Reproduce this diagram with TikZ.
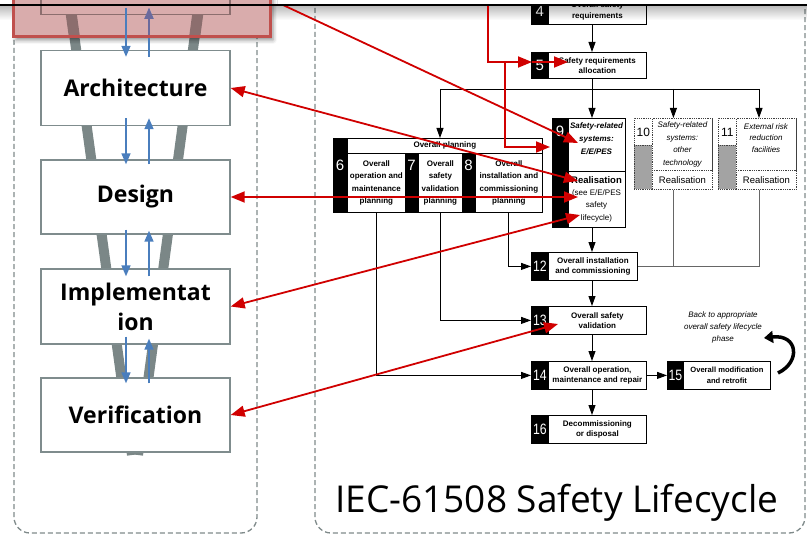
\documentclass[tikz,border=0pt]{standalone}
\usepackage{fontspec}
\usepackage{graphicx}
\setmainfont{Liberation Sans}
\newfontfamily\stagefont{Open Sans}
\usetikzlibrary{arrows.meta,calc,shadows.blur}

\definecolor{panelgray}{HTML}{7F8A8A}
\definecolor{funnelgray}{HTML}{7B8787}
\definecolor{stageedge}{HTML}{7F8C8D}
\definecolor{flowblue}{HTML}{4A7EBD}
\definecolor{hlred}{HTML}{C0504D}
\definecolor{hlfill}{HTML}{D9ACAC}
\definecolor{hlfunnel}{HTML}{8C6E6E}
\definecolor{hlblue}{HTML}{6B6A9C}
\definecolor{linkred}{HTML}{D00000}
\definecolor{cellgray}{HTML}{A3A3A3}

\newcommand\narrowdigits[1]{\scalebox{0.82}[1]{#1}}

\begin{document}
\begin{tikzpicture}[x=1pt,y=-1pt,
  stage/.style={draw=stageedge, line width=1.4pt, fill=white, minimum width=189pt,
    minimum height=75pt, inner sep=0pt, align=center,
    font=\stagefont\bfseries\fontsize{23}{30}\selectfont},
  flow/.style={draw=flowblue, line width=1.5pt, -{Triangle[length=11pt,width=9pt]}},
  numcell/.style={draw=black, fill=black, line width=0.8pt, inner sep=0pt,
    anchor=north west, text=white, font=\fontsize{15}{15}\selectfont},
  numlabel/.style={text=white, inner sep=0pt, font=\fontsize{15}{15}\selectfont},
  lcbox/.style={draw=black, fill=white, line width=0.8pt, inner sep=0pt,
    anchor=north west, align=center, font=\bfseries\fontsize{8}{10.5}\selectfont},
  plancol/.style={lcbox, font=\bfseries\fontsize{8}{12.3}\selectfont},
  dotbox/.style={draw=black!75, densely dotted, fill=white, line width=0.8pt,
    inner sep=0pt, anchor=north west, align=center, font=\fontsize{8}{12.5}\selectfont},
  lctext/.style={inner sep=0pt, align=center},
  lcline/.style={draw=black, line width=0.9pt},
  lcarrow/.style={lcline, -{Triangle[length=10pt,width=7pt]}},
  otherline/.style={draw=black!60, line width=0.9pt},
  link/.style={draw=linkred, line width=1.8pt, -{Triangle[length=14pt,width=11pt]}},
  link2/.style={draw=linkred, line width=1.8pt,
    {Triangle[length=14pt,width=11pt]}-{Triangle[length=14pt,width=11pt]}},
  panel/.style={draw=panelgray, line width=1.3pt, dash pattern=on 5pt off 3pt,
    rounded corners=16pt},
]
\useasboundingbox (0,0) rectangle (807,535);

% ---------- dashed panels ----------
\draw[panel] (14,-40) rectangle (257,533);
\draw[panel] (315,-40) rectangle (805,533);

% ---------- development stages (left) ----------
\draw[funnelgray, line width=10pt] (70,5) -- (132,455);
\draw[funnelgray, line width=10pt] (199,5) -- (138,455);

\node[stage] (arch) at (135.5,88) {Architecture};
\node[stage, minimum height=74pt] (design) at (135.5,197) {Design};
\node[stage] (impl) at (135.5,306.5) {Implementat\\ion};
\node[stage, minimum height=74pt] (verif) at (135.5,415) {Verification};

\coordinate (dn) at (126,0);
\coordinate (up) at (149,0);
\draw[flow] ($(arch.south -| dn)+(0,-8)$) -- ($(design.north -| dn)+(0,5)$);
\draw[flow] ($(design.north -| up)+(0,5)$) -- ($(arch.south -| up)+(0,-8)$);
\draw[flow] ($(design.south -| dn)+(0,-5)$) -- ($(impl.north -| dn)+(0,8)$);
\draw[flow] ($(impl.north -| up)+(0,8)$) -- ($(design.south -| up)+(0,-4)$);
\draw[flow] ($(impl.south -| dn)+(0,-8)$) -- ($(verif.north -| dn)+(0,6)$);
\draw[flow] ($(verif.north -| up)+(0,6)$) -- ($(impl.south -| up)+(0,-6)$);

% ---------- IEC 61508 overall safety lifecycle (right) ----------
\node[numcell, minimum width=17pt, minimum height=27pt] (n4) at (531,-3) {4};
\node[lcbox, minimum width=98pt, minimum height=27pt] (b4) at (548,-3) {Overall safety\\requirements};

\node[numcell, minimum width=17pt, minimum height=26pt] (n5) at (531,52) {5};
\node[lcbox, minimum width=98pt, minimum height=26pt] (b5) at (548,52) {Safety requirements\\allocation};

% overall planning
\node[numcell, minimum width=14pt, minimum height=15pt] (np) at (333,138) {};
\node[lcbox, minimum width=195pt, minimum height=15pt] (plan) at (347,138) {Overall planning};
\node[numcell, minimum width=14pt, minimum height=59pt] (n6) at (333,153) {};
\node[numlabel] (l6) at (340,165) {6};
\node[plancol, minimum width=58pt, minimum height=59pt] (b6) at (347,153) {Overall\\operation and\\maintenance\\planning};
\node[numcell, minimum width=13pt, minimum height=59pt] (n7) at (405,153) {};
\node[numlabel] (l7) at (411.5,165) {7};
\node[plancol, minimum width=44pt, minimum height=59pt] (b7) at (418,153) {Overall\\safety\\validation\\planning};
\node[numcell, minimum width=13pt, minimum height=59pt] (n8) at (462,153) {};
\node[numlabel] (l8) at (468.5,165) {8};
\node[plancol, minimum width=67pt, minimum height=59pt] (b8) at (475,153) {Overall\\installation and\\commissioning\\planning};

% phase 9
\node[numcell, minimum width=16pt, minimum height=109pt] (n9) at (552,118) {};
\node[numlabel] (l9) at (560,131) {9};
\node[lcbox, minimum width=57pt, minimum height=53pt] (b9a) at (568,118) {};
\node[lctext, font=\bfseries\itshape\fontsize{8}{13}\selectfont] (t9a) at (596.5,138.5) {Safety-related\\systems:\\E/E/PES};
\node[lcbox, minimum width=57pt, minimum height=56pt] (b9b) at (568,171) {};
\node[lctext, font=\fontsize{8}{12.3}\selectfont] (t9b) at (596.5,199) {{\bfseries\fontsize{9.5}{12.3}\selectfont Realisation}\\(see E/E/PES\\safety\\lifecycle)};

% phase 10
\node[dotbox, minimum width=78pt, minimum height=71pt] (b10) at (634,118) {};
\node[dotbox, minimum width=18pt, minimum height=27pt, font=\fontsize{12}{12}\selectfont] (n10) at (634,118) {10};
\node[dotbox, fill=cellgray, minimum width=18pt, minimum height=44pt] (g10) at (634,145) {};
\node[dotbox, minimum width=60pt, minimum height=52pt, font=\itshape\fontsize{8}{12.7}\selectfont] (t10) at (652,118) {Safety-related\\systems:\\other\\technology};
\node[dotbox, minimum width=60pt, minimum height=19pt, font=\fontsize{9.5}{10}\selectfont] (r10) at (652,170) {Realisation};

% phase 11
\node[dotbox, minimum width=78pt, minimum height=71pt] (b11) at (718,118) {};
\node[dotbox, minimum width=18pt, minimum height=27pt, font=\fontsize{12}{12}\selectfont] (n11) at (718,118) {11};
\node[dotbox, fill=cellgray, minimum width=18pt, minimum height=44pt] (g11) at (718,145) {};
\node[dotbox, minimum width=60pt, minimum height=52pt] (t11) at (736,118) {};
\node[lctext, font=\itshape\fontsize{8}{11.5}\selectfont] (x11) at (766,138) {External risk\\reduction\\facilities};
\node[dotbox, minimum width=60pt, minimum height=19pt, font=\fontsize{9.5}{10}\selectfont] (r11) at (736,170) {Realisation};

% phases 12 - 16
\node[numcell, minimum width=17pt, minimum height=28pt] (n12) at (531,252) {\narrowdigits{12}};
\node[lcbox, minimum width=89pt, minimum height=28pt] (b12) at (548,252) {Overall installation\\and commissioning};
\node[numcell, minimum width=17pt, minimum height=28pt] (n13) at (531,306) {\narrowdigits{13}};
\node[lcbox, minimum width=98pt, minimum height=28pt] (b13) at (548,306) {Overall safety\\validation};
\node[numcell, minimum width=17pt, minimum height=28pt] (n14) at (531,361) {\narrowdigits{14}};
\node[lcbox, minimum width=98pt, minimum height=28pt] (b14) at (548,361) {Overall operation,\\maintenance and repair};
\node[numcell, minimum width=16pt, minimum height=28pt] (n15) at (667,361) {\narrowdigits{15}};
\node[lcbox, minimum width=87pt, minimum height=28pt, font=\bfseries\fontsize{7.6}{11.5}\selectfont] (b15) at (683,361) {Overall modification\\and retrofit};
\node[numcell, minimum width=17pt, minimum height=28pt] (n16) at (531,415) {\narrowdigits{16}};
\node[lcbox, minimum width=98pt, minimum height=28pt] (b16) at (548,415) {Decommissioning\\or disposal};

\node[lctext, font=\itshape\fontsize{8}{12}\selectfont] (back) at (723,327) {Back to appropriate\\overall safety lifecycle\\phase};
\coordinate (backtail) at (778,373);
\coordinate (backhead) at (764,338);
\draw[line width=3.5pt, -{Triangle[length=9pt,width=12pt]}] (backtail) .. controls (801,362) and (798,334) .. (backhead);

% lifecycle flow
\coordinate (spine) at (592,0);
\coordinate (forkL) at (440,89);
\coordinate (forkR) at (759,89);
\draw[lcarrow] (b4.south -| spine) -- (b5.north -| spine);
\draw[lcarrow] (b5.south -| spine) -- (b9a.north -| spine);
\draw[lcline] (forkL) -- (forkR);
\draw[lcarrow] (forkL) -- (forkL |- plan.north);
\draw[lcarrow] (b10.north |- forkL) -- (b10.north);
\draw[lcarrow] (forkR) -- (forkR |- b11.north);
\draw[lcarrow] (b9b.south -| spine) -- (b12.north -| spine);
\draw[lcarrow] (b8.south) |- (n12.west);
\draw[otherline] (b10.south) |- (b12.east);
\draw[otherline] (forkR |- b11.south) |- (b12.east);
\draw[lcarrow] (b12.south -| spine) -- (b13.north -| spine);
\draw[lcarrow] (b7.south) |- (n13.west);
\draw[lcarrow] (b13.south -| spine) -- (b14.north -| spine);
\draw[lcarrow] (b6.south) |- (n14.west);
\draw[lcarrow] (b14.east) -- (n15.west);
\draw[lcarrow] (b14.south -| spine) -- (b16.north -| spine);

\node[font=\stagefont\fontsize{37}{37}\selectfont, anchor=base west, inner sep=0pt] (caption) at (335,512) {IEC-61508 Safety Lifecycle};

% ---------- top edge with its shadow ----------
\fill[white] (0,-10) rectangle (807,4.5);
\foreach \i in {0,...,14}
  \fill[black, opacity={0.28*(1-\i/15)}] (0,5+\i) rectangle (807,6+\i);

% ---------- highlighted requirements stage ----------
\path[fill=hlfill, blur shadow={shadow xshift=3pt, shadow yshift=-3pt, shadow blur radius=4pt, shadow opacity=45}] (13,-5) rectangle (270,37);
\begin{scope}
  \clip (13,-5) rectangle (270,37);
  \draw[hlfunnel, line width=11pt] (70,5) -- (132,455);
  \draw[hlfunnel, line width=11pt] (199,5) -- (138,455);
\end{scope}
\node[draw=hlfunnel, line width=1.4pt, fill=hlfill, minimum width=189pt, minimum height=40pt, anchor=south] (req) at (135.5,15) {};
\draw[flow] ($(arch.north -| up)+(0,7)$) -- ($(req.south -| up)+(0,-7)$);
\begin{scope}
  \clip (13,-5) rectangle (270,37);
  \draw[flow, draw=hlblue, fill=hlblue] ($(arch.north -| up)+(0,7)$) -- ($(req.south -| up)+(0,-7)$);
\end{scope}
\draw[hlred, line width=3pt] (13,-5) rectangle (270,37);
\draw[flow] ($(req.south -| dn)+(0,-7)$) -- ($(arch.north -| dn)+(0,7)$);

% ---------- cross references between the two views ----------
\coordinate (linkA) at (283,5);
\coordinate (sys9) at (578,143);
\coordinate (real9) at (578,181);
\coordinate (see9) at (578,197);
\coordinate (life9) at (580,215);
\coordinate (val13) at (558,324);
\coordinate (linkB) at (488,5);
\coordinate (into5) at (532,62);
\coordinate (req5) at (568,62);
\coordinate (tap) at (505,62);
\coordinate (into9) at (550,147);

\draw[link] (linkA) -- (sys9);
\draw[link2] (arch.east) -- (real9);
\draw[link2] (design.east) -- (see9);
\draw[link2] (impl.east) -- (life9);
\draw[link2] (verif.east) -- (val13);
\draw[link] (linkB) |- (into5);
\draw[link] (into5) -- (req5);
\draw[link] (tap) |- (into9);

\draw[line width=2pt] (0,5) -- (807,5);
\end{tikzpicture}
\end{document}
